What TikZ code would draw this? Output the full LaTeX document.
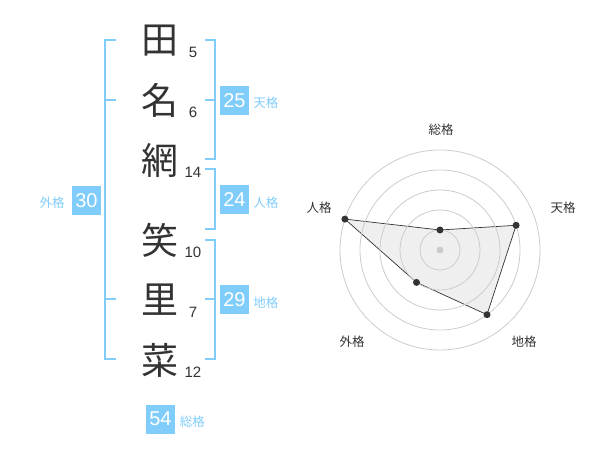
\documentclass[tikz,border=0pt]{standalone}
\usepackage{fontspec}
\setmainfont{Liberation Sans}
\newfontfamily\jp{Noto Sans CJK JP}
\usetikzlibrary{positioning}
\definecolor{kakublue}{RGB}{128,204,250}
\definecolor{inkgray}{RGB}{51,51,51}
\definecolor{ringgray}{RGB}{204,204,204}

\begin{document}
\begin{tikzpicture}
	 [scale =1]
	\tikzstyle{kanji}=[text=inkgray,inner sep=0pt,font=\jp\fontsize{37}{37}\selectfont]
	\tikzstyle{strokes}=[text=inkgray,inner sep=0pt,font=\fontsize{15}{15}\selectfont]
	\tikzstyle{kakubox}=[rectangle,fill=kakublue,text=white,inner sep=0pt,minimum size=29.0 pt,font=\fontsize{20}{20}\selectfont]
	\tikzstyle{kakuname}=[text=kakublue,inner sep=0pt,font=\jp\fontsize{12.5}{12.5}\selectfont]
	\tikzstyle{bracket}=[draw=kakublue,line width=2.0 pt]
	\tikzstyle{ring}=[draw=ringgray,line width=0.8 pt]
	\tikzstyle{axisname}=[text=inkgray,inner sep=0pt,font=\jp\fontsize{12.5}{12.5}\selectfont]
	\tikzstyle{poly}=[draw=inkgray,line width=0.7 pt,fill=black!10,fill opacity=0.6]
	\tikzstyle{dot}=[circle,fill=inkgray,inner sep=0pt,minimum size=7.0 pt]
	\useasboundingbox (0 pt,0 pt) rectangle (600.0 pt,-470.0 pt);
	\node [kanji] (k1) at (160.0 pt,-41.0 pt) {田};
	\node [kanji] (k2) at (160.0 pt,-100.5 pt) {名};
	\node [kanji] (k3) at (160.0 pt,-160.0 pt) {網};
	\node [kanji] (k4) at (160.0 pt,-240.5 pt) {笑};
	\node [kanji] (k5) at (160.0 pt,-300.0 pt) {里};
	\node [kanji] (k6) at (160.0 pt,-360.5 pt) {菜};
	\node [strokes] (n1) at (193.0 pt,-52.5 pt) {5};
	\node [strokes] (n2) at (193.0 pt,-112.5 pt) {6};
	\node [strokes] (n3) at (193.0 pt,-172.5 pt) {14};
	\node [strokes] (n4) at (193.0 pt,-252.5 pt) {10};
	\node [strokes] (n5) at (193.0 pt,-312.5 pt) {7};
	\node [strokes] (n6) at (193.0 pt,-372.5 pt) {12};
	\coordinate (gt) at (116.0 pt,-40.0 pt);
	\coordinate (gb) at (116.0 pt,-359.0 pt);
	\coordinate (gm1) at (116.0 pt,-100.0 pt);
	\coordinate (gm2) at (116.0 pt,-299.0 pt);
	\draw[bracket] (gt) -- +(-11.0 pt,0) |- (gb) ;
	\draw[bracket] (gm1) -- +(-11.0 pt,0) ;
	\draw[bracket] (gm2) -- +(-11.0 pt,0) ;
	\coordinate (tt) at (205.0 pt,-40.0 pt);
	\coordinate (tb) at (205.0 pt,-159.0 pt);
	\coordinate (tm) at (205.0 pt,-100.0 pt);
	\draw[bracket] (tt) -- +(10.0 pt,0) |- (tb) ;
	\draw[bracket] (tm) -- +(10.0 pt,0) ;
	\coordinate (jt) at (205.0 pt,-169.0 pt);
	\coordinate (jb) at (205.0 pt,-229.0 pt);
	\draw[bracket] (jt) -- +(10.0 pt,0) |- (jb) ;
	\coordinate (ct) at (205.0 pt,-240.0 pt);
	\coordinate (cb) at (205.0 pt,-359.0 pt);
	\coordinate (cm) at (205.0 pt,-299.0 pt);
	\draw[bracket] (ct) -- +(10.0 pt,0) |- (cb) ;
	\draw[bracket] (cm) -- +(10.0 pt,0) ;
	\node [kakubox] (b1) at (234.5 pt,-100.5 pt) {25};
	\node [kakuname,right=4.0 pt of b1,yshift=-2.5 pt] (l1) {天格};
	\node [kakubox] (b2) at (234.5 pt,-200.0 pt) {24};
	\node [kakuname,right=4.0 pt of b2,yshift=-2.5 pt] (l2) {人格};
	\node [kakubox] (b3) at (234.5 pt,-300.0 pt) {29};
	\node [kakuname,right=4.0 pt of b3,yshift=-2.5 pt] (l3) {地格};
	\node [kakubox] (b4) at (86.5 pt,-200.5 pt) {30};
	\node [kakuname,left=7.0 pt of b4,yshift=-2.5 pt] (l4) {外格};
	\node [kakubox] (b5) at (160.5 pt,-419.0 pt) {54};
	\node [kakuname,right=4.5 pt of b5,yshift=-2.5 pt] (l5) {総格};
	\coordinate (c) at (440.0 pt,-250.0 pt);
	\coordinate (v1) at (440.0 pt,-230.0 pt);
	\coordinate (v2) at (516.1 pt,-225.3 pt);
	\coordinate (v3) at (487.0 pt,-314.7 pt);
	\coordinate (v4) at (416.5 pt,-282.4 pt);
	\coordinate (v5) at (344.9 pt,-219.1 pt);
	\draw[poly] (v1) -- (v2) -- (v3) -- (v4) -- (v5) -- cycle ;
	\draw[ring] (c) circle (20.0 pt) ;
	\draw[ring] (c) circle (40.0 pt) ;
	\draw[ring] (c) circle (60.0 pt) ;
	\draw[ring] (c) circle (80.0 pt) ;
	\draw[ring] (c) circle (100.0 pt) ;
	\node [dot,fill=ringgray] (d0) at (c) {};
	\node [dot] (d1) at (v1) {};
	\node [dot] (d2) at (v2) {};
	\node [dot] (d3) at (v3) {};
	\node [dot] (d4) at (v4) {};
	\node [dot] (d5) at (v5) {};
	\node [axisname] (a1) at (441.0 pt,-130.0 pt) {総格};
	\node [axisname] (a2) at (563.0 pt,-208.0 pt) {天格};
	\node [axisname] (a3) at (524.0 pt,-342.0 pt) {地格};
	\node [axisname] (a4) at (352.0 pt,-342.0 pt) {外格};
	\node [axisname] (a5) at (319.0 pt,-208.0 pt) {人格};
	\end{tikzpicture}
\end{document}
